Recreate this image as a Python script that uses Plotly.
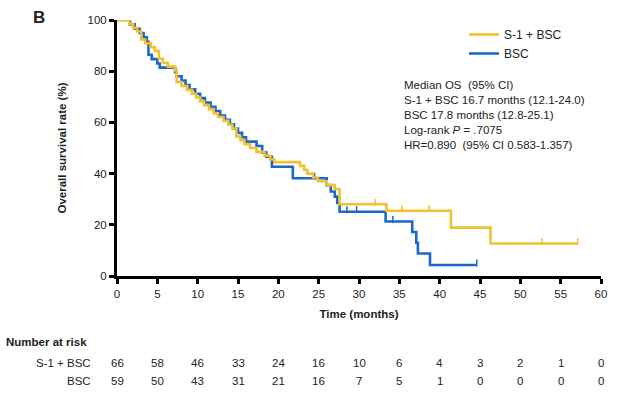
import plotly.graph_objects as go
import bisect

# ---- data ----
s1_times = [0, 1.5, 2.0, 2.5, 3.0, 3.5, 4.2, 4.7, 5.2, 5.7, 6.3, 7.2, 7.4, 8.0, 8.7, 9.3, 9.8,
            10.3, 10.8, 11.4, 12.0, 12.5, 13.2, 13.8, 14.3, 14.8, 15.3, 15.8, 16.5, 17.3, 18.3,
            19.0, 19.5, 22.7, 23.2, 23.6, 24.3, 24.9, 26.0, 27.0, 27.6, 33.4, 41.4, 46.3]
s1_surv = [100, 98.5, 97.0, 95.5, 92.4, 90.9, 89.4, 87.9, 84.8, 83.3, 81.8, 80.3, 75.8, 74.2, 72.7,
           71.2, 69.7, 68.2, 66.7, 65.2, 63.6, 62.1, 60.6, 59.1, 57.6, 54.5, 53.0, 51.5, 50.0, 48.5,
           47.0, 45.5, 44.5, 43.0, 41.5, 40.0, 38.5, 37.0, 35.5, 34.0, 28.0, 25.5, 18.9, 12.7]
s1_end = 57.1
s1_censor = [32.0, 35.3, 38.7, 52.7, 57.1]

bsc_times = [0, 1.6, 2.2, 2.8, 3.3, 3.7, 3.9, 4.3, 5.0, 5.3, 7.2, 7.4, 8.0, 8.5, 9.0, 9.7, 10.3,
             10.9, 11.6, 12.2, 12.8, 13.4, 14.0, 14.5, 15.0, 15.5, 16.0, 17.3, 18.0, 18.5, 19.2,
             21.8, 26.0, 26.5, 27.0, 27.3, 27.6, 33.3, 36.6, 37.1, 37.3, 38.8]
bsc_surv = [100, 98.3, 96.6, 94.9, 93.2, 91.5, 86.4, 84.7, 83.0, 81.4, 79.7, 78.0, 76.3, 74.6, 72.9,
            71.2, 69.5, 67.8, 66.1, 64.4, 62.7, 61.0, 59.3, 57.6, 55.9, 54.2, 52.5, 50.8, 48.3,
            46.6, 42.7, 38.2, 35.5, 33.0, 31.0, 28.5, 25.1, 21.3, 17.2, 13.0, 8.8, 4.3]
bsc_end = 44.6
bsc_censor = [24.5, 26.0, 28.5, 29.7, 34.2, 44.6]

risk_times = [0, 5, 10, 15, 20, 25, 30, 35, 40, 45, 50, 55, 60]
risk_s1 = [66, 58, 46, 33, 24, 16, 10, 6, 4, 3, 2, 1, 0]
risk_bsc = [59, 50, 43, 31, 21, 16, 7, 5, 1, 0, 0, 0, 0]

YELLOW = "#F2C12E"
BLUE = "#1A68C8"
FONT = "Liberation Sans, Arial, sans-serif"


def step_at(times, surv, t):
    i = bisect.bisect_right(times, t) - 1
    return surv[max(i, 0)]


fig = go.Figure()

for name, times, surv, end, cens, col, rank in [
    ("BSC", bsc_times, bsc_surv, bsc_end, bsc_censor, BLUE, 2),
    ("S-1 + BSC", s1_times, s1_surv, s1_end, s1_censor, YELLOW, 1),
]:
    fig.add_trace(go.Scatter(
        x=times + [end], y=surv + [surv[-1]], mode="lines", name=name,
        line=dict(color=col, width=2.6, shape="hv"), legendrank=rank,
    ))
    fig.add_trace(go.Scatter(
        x=cens, y=[step_at(times, surv, c) + 0.8 for c in cens], mode="markers",
        marker=dict(symbol="line-ns", size=5, line=dict(color=col, width=1.5)),
        showlegend=False, hoverinfo="skip",
    ))

fig.update_layout(
    width=625, height=395,
    margin=dict(l=117, r=24, t=20, b=119),
    paper_bgcolor="white", plot_bgcolor="white",
    font=dict(family=FONT, size=11, color="#222"),
    showlegend=True,
    legend=dict(x=0.717, y=1.0, xanchor="left", yanchor="top",
                font=dict(size=12, color="#222"), bgcolor="rgba(0,0,0,0)",
                tracegroupgap=0, itemwidth=30),
    xaxis=dict(range=[0, 60], tickmode="array", tickvals=risk_times,
               showline=True, linecolor="black", linewidth=3, ticks="outside",
               tickwidth=2.5, ticklen=5, tickcolor="black", showgrid=False, zeroline=False,
               title=dict(text="<b>Time (months)</b>", standoff=12, font=dict(size=11.5)),
               tickfont=dict(size=11.5)),
    yaxis=dict(range=[0, 100], tickmode="array", tickvals=[0, 20, 40, 60, 80, 100],
               showline=True, linecolor="black", linewidth=3, ticks="outside",
               tickwidth=2.5, ticklen=5, tickcolor="black", showgrid=False, zeroline=False,
               title=dict(text="<b>Overall survival rate (%)</b>", standoff=19, font=dict(size=11.5)),
               tickfont=dict(size=11.5)),
)

annots = [
    dict(text="<b>B</b>", x=-0.162, y=1.01, xref="paper", yref="paper",
         xanchor="center", yanchor="middle", showarrow=False, font=dict(size=17, color="#222")),
    dict(text=("Median OS  (95% CI)<br>S-1 + BSC 16.7 months (12.1-24.0)<br>"
               "BSC 17.8 months (12.8-25.1)<br>Log-rank <i>P</i> = .7075<br>"
               "HR=0.890  (95% CI 0.583-1.357)"),
         x=0.589, y=0.778, xref="paper", yref="paper", xanchor="left", yanchor="top",
         align="left", showarrow=False, font=dict(size=11.5, color="#222")),
    dict(text="<b>Number at risk</b>", x=-0.234, y=-0.256, xref="paper", yref="paper",
         xanchor="left", yanchor="middle", showarrow=False, font=dict(size=11.5, color="#222")),
    dict(text="S-1 + BSC", x=-0.05, y=-0.338, xref="paper", yref="paper",
         xanchor="right", yanchor="middle", showarrow=False, font=dict(size=11.5, color="#222")),
    dict(text="BSC", x=-0.05, y=-0.41, xref="paper", yref="paper",
         xanchor="right", yanchor="middle", showarrow=False, font=dict(size=11.5, color="#222")),
]
for t, a, b in zip(risk_times, risk_s1, risk_bsc):
    annots.append(dict(text=str(a), x=t, y=-0.338, xref="x", yref="paper", xanchor="center",
                       yanchor="middle", showarrow=False, font=dict(size=11.5, color="#222")))
    annots.append(dict(text=str(b), x=t, y=-0.41, xref="x", yref="paper", xanchor="center",
                       yanchor="middle", showarrow=False, font=dict(size=11.5, color="#222")))
fig.update_layout(annotations=annots)

fig.write_html("out.html", config={"displayModeBar": False},
               post_script="document.body.style.margin='0';")
